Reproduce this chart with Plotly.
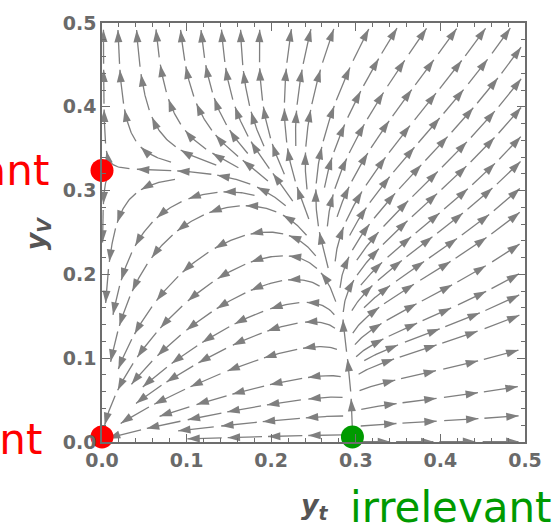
import math
import numpy as np
import plotly.graph_objects as go

# ---- data -------------------------------------------------------------
# fixed points of the flow (y_t, y_V) and their marker colours
fp_x = [0.0, 0.0, 0.296]
fp_y = [0.006, 0.324, 0.006]
fp_color = ["#ff0000", "#ff0000", "#009a00"]

# axis ticks
tick_vals = [0.0, 0.1, 0.2, 0.3, 0.4, 0.5]
tick_text = ["0.0", "0.1", "0.2", "0.3", "0.4", "0.5"]

# flow parameters
YT_STAR = 0.296      # y_t fixed point on the horizontal axis
YV_STAR = 0.324      # y_V fixed point on the vertical axis
C_XY = 0.5           # y_V^2 feedback in the y_t flow
N_X0, N_POW = 0.29, 3.8
A_INF, A_0, A_W = 0.10, 0.50, 0.22


def velocity(x, y):
    fx = x * (x - YT_STAR + C_XY * y * y)
    null_y = YV_STAR * (1.0 - (max(x, 0.0) / N_X0) ** N_POW)
    a = A_INF + A_0 * math.exp(-(x / A_W) ** 2)
    fy = y * a * (1.0 + 1.5 * y) * (y - null_y)
    return fx, fy


# ---- evenly spaced streamlines (pixel space) --------------------------
X_RANGE = (0.0, 0.5)
Y_RANGE = (0.0, 0.5)
PLOT_PX = 425.0
S = PLOT_PX / (X_RANGE[1] - X_RANGE[0])
W = H = PLOT_PX

D_SEP = 19.0
D_TEST = 8.5
STEP = 1.5
MIN_LEN = 22.0

grid = {}


def cell(p):
    return int(p[0] // D_SEP), int(p[1] // D_SEP)


def free(p, d):
    ci, cj = cell(p)
    d2 = d * d
    for i in (ci - 1, ci, ci + 1):
        for j in (cj - 1, cj, cj + 1):
            for q in grid.get((i, j), ()):
                if (q[0] - p[0]) ** 2 + (q[1] - p[1]) ** 2 < d2:
                    return False
    return True


def direction(px, py):
    fx, fy = velocity(px / S, py / S)
    n = math.hypot(fx, fy)
    if n < 1e-7:
        return None
    return fx / n, fy / n


def integrate(seed, sign):
    pts = []
    p = seed
    prev = None
    for _ in range(3000):
        d1 = direction(*p)
        if d1 is None:
            break
        mid = (p[0] + sign * d1[0] * STEP / 2, p[1] + sign * d1[1] * STEP / 2)
        d2 = direction(*mid)
        if d2 is None:
            break
        if prev is not None and d2[0] * prev[0] + d2[1] * prev[1] < 0.3:
            break
        q = (p[0] + sign * d2[0] * STEP, p[1] + sign * d2[1] * STEP)
        if not (0.0 <= q[0] <= W and 0.0 <= q[1] <= H):
            break
        if not free(q, D_TEST):
            break
        pts.append(q)
        prev = d2
        p = q
    return pts


def trace_line(seed):
    if not (0.0 < seed[0] < W and 0.0 < seed[1] < H):
        return None
    if not free(seed, D_SEP):
        return None
    fwd = integrate(seed, 1)
    bwd = integrate(seed, -1)
    pts = bwd[::-1] + [seed] + fwd
    if len(pts) * STEP < MIN_LEN:
        return None
    for q in pts:
        grid.setdefault(cell(q), []).append(q)
    return pts


lines = []


def grow(queue):
    while queue:
        seed = queue.pop(0)
        pts = trace_line(seed)
        if pts is None:
            continue
        lines.append(pts)
        for k in range(0, len(pts) - 1, 5):
            dx = pts[k + 1][0] - pts[k][0]
            dy = pts[k + 1][1] - pts[k][1]
            n = math.hypot(dx, dy) or 1.0
            nx, ny = -dy / n, dx / n
            queue.append((pts[k][0] + nx * D_SEP, pts[k][1] + ny * D_SEP))
            queue.append((pts[k][0] - nx * D_SEP, pts[k][1] - ny * D_SEP))


grow([(0.40 * S, 0.30 * S)])
for gy in np.arange(D_SEP / 2, H, D_SEP / 2):
    for gx in np.arange(D_SEP / 2, W, D_SEP / 2):
        grow([(float(gx), float(gy))])

# ---- cut every streamline into arrows ----------------------------------
ARROW_LEN = 40.0
GAP = 5.0

lx, ly = [], []
tip_x, tip_y, tip_ang = [], [], []
for pts in lines:
    arr = np.array(pts)
    seg = np.hypot(np.diff(arr[:, 0]), np.diff(arr[:, 1]))
    s = np.concatenate([[0.0], np.cumsum(seg)])
    total = s[-1]
    n_arr = max(1, int(round(total / ARROW_LEN)))
    piece = total / n_arr
    for k in range(n_arr):
        a, b = k * piece, (k + 1) * piece - GAP
        idx = np.where((s >= a) & (s <= b))[0]
        if len(idx) < 3:
            continue
        sub = arr[idx]
        lx.extend(list(sub[:, 0] / S) + [None])
        ly.extend(list(sub[:, 1] / S) + [None])
        dx = sub[-1, 0] - sub[-3, 0]
        dy = sub[-1, 1] - sub[-3, 1]
        tip_x.append(sub[-1, 0] / S)
        tip_y.append(sub[-1, 1] / S)
        tip_ang.append(math.degrees(math.atan2(dx, dy)))

STREAM = "#7f7f7f"
fig = go.Figure()
fig.add_trace(go.Scatter(x=lx, y=ly, mode="lines",
                         line=dict(color=STREAM, width=1.3),
                         hoverinfo="skip"))
fig.add_trace(go.Scatter(x=tip_x, y=tip_y, mode="markers",
                         marker=dict(symbol="arrow", size=13, angle=tip_ang,
                                     color=STREAM, line=dict(width=0)),
                         hoverinfo="skip"))
fig.add_trace(go.Scatter(x=fp_x, y=fp_y, mode="markers", cliponaxis=False,
                         marker=dict(size=23, color=fp_color, line=dict(width=0)),
                         hoverinfo="skip"))

FRAME = "#6d6d6d"
tickfont = dict(family="DejaVu Sans", size=19, color="#6a6a6a", weight="bold")
axis_common = dict(
    showline=True, linecolor=FRAME, linewidth=1.5, mirror="ticks",
    ticks="inside", ticklen=8, tickwidth=1.2, tickcolor=FRAME,
    minor=dict(ticks="inside", ticklen=4, dtick=0.02, tickcolor=FRAME, tickwidth=1),
    showgrid=False, zeroline=False,
    tickvals=tick_vals, ticktext=tick_text, tickfont=tickfont,
)
fig.update_xaxes(range=list(X_RANGE), **axis_common)
fig.update_yaxes(range=list(Y_RANGE), **axis_common)

title_font = dict(family="DejaVu Sans", size=27, color="#555555")
label_font = dict(family="DejaVu Sans", size=42)
fig.update_layout(
    width=554, height=528,
    margin=dict(l=102, r=27, t=17, b=86),
    plot_bgcolor="white", paper_bgcolor="white",
    showlegend=False,
    annotations=[
        dict(text="<b><i>y</i><sub><i>t</i></sub></b>", xref="paper", yref="paper",
             x=(316 - 102) / 425, y=(442 - 507) / 425, xanchor="center", yanchor="middle",
             showarrow=False, font=title_font),
        dict(text="<b><i>y</i><sub><i>V</i></sub></b>", xref="paper", yref="paper",
             x=(38 - 102) / 425, y=(442 - 230) / 425, xanchor="center", yanchor="middle",
             textangle=-90, showarrow=False, font=title_font),
        dict(text="irrelevant", xref="paper", yref="paper",
             x=(349 - 102) / 425, y=(442 - 508) / 425, xanchor="left", yanchor="middle",
             showarrow=False, font=dict(color="#009a00", **label_font)),
        dict(text="relevant", xref="paper", yref="paper",
             x=(51 - 102) / 425, y=(442 - 167) / 425, xanchor="right", yanchor="middle",
             showarrow=False, font=dict(color="#ff0000", **label_font)),
        dict(text="relevant", xref="paper", yref="paper",
             x=(44 - 102) / 425, y=(442 - 439) / 425, xanchor="right", yanchor="middle",
             showarrow=False, font=dict(color="#ff0000", **label_font)),
    ],
)

fig.write_html("out.html")
